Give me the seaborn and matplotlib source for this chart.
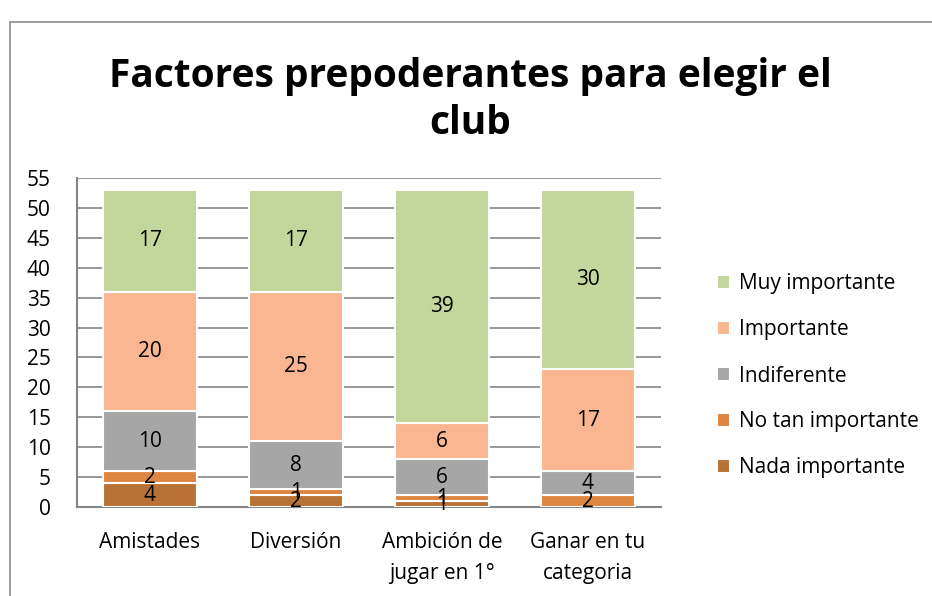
import pandas as pd
import matplotlib
matplotlib.use("Agg")
import matplotlib.pyplot as plt
import matplotlib.patches as mpatches
import seaborn as sns

# Data
categories = ["Amistades", "Diversión", "Ambición de\njugar en 1°", "Ganar en tu\ncategoria"]
levels = ["Nada importante", "No tan importante", "Indiferente", "Importante", "Muy importante"]
nada = [4, 2, 1, 0]
no_tan = [2, 1, 1, 2]
indiferente = [10, 8, 6, 4]
importante = [20, 25, 6, 17]
muy = [17, 17, 39, 30]
colors = ["#B87235", "#DD8642", "#A6A6A6", "#F9B691", "#C3D69B"]

series = [nada, no_tan, indiferente, importante, muy]
df = pd.DataFrame({
    "Factor": [c for _ in levels for c in categories],
    "Nivel": [lv for lv in levels for _ in categories],
    "Valor": [v for s in series for v in s],
})

sns.set_style("white")
plt.rcParams["font.family"] = ["Open Sans", "DejaVu Sans"]
plt.rcParams["text.color"] = "black"
plt.rcParams["xtick.color"] = "black"
plt.rcParams["ytick.color"] = "black"

fig = plt.figure(figsize=(9.32, 5.96), dpi=100)
ax = fig.add_axes([77 / 932, 1 - 507 / 596, 584 / 932, 329 / 596])

# outer chart frame (only left/top visible in the reference)
fig.patches.append(mpatches.Rectangle((10 / 932, -0.1), 1.2, 1 - 22 / 596 + 0.1,
                                      transform=fig.transFigure, fill=False,
                                      edgecolor="#8c8c8c", linewidth=1.2, zorder=0))

bottom = pd.Series([0] * len(categories), dtype=float)
for lv, col in zip(levels, colors):
    sub = df[df["Nivel"] == lv].reset_index(drop=True)
    sns.barplot(data=sub, x="Factor", y="Valor", color=col, bottom=bottom.values,
                width=0.65, saturation=1, edgecolor="white", linewidth=1.5,
                ax=ax, zorder=3, label=lv)
    for i, v in enumerate(sub["Valor"]):
        if v > 0:
            ax.text(i, bottom[i] + v / 2, str(v), ha="center", va="center",
                    fontsize=15, color="black", zorder=5)
    bottom = bottom + sub["Valor"]

handles, labels = ax.get_legend_handles_labels()
if ax.get_legend() is not None:
    ax.get_legend().remove()

ax.set_xlim(-0.5, 3.5)
ax.set_ylim(0, 55)
ax.set_yticks(range(0, 56, 5))
ax.yaxis.grid(True, color="#868686", linewidth=1.2, zorder=0)
ax.set_axisbelow(True)
for s in ["top", "right"]:
    ax.spines[s].set_visible(False)
for s in ["left", "bottom"]:
    ax.spines[s].set_color("#868686")
    ax.spines[s].set_linewidth(1.5)
ax.tick_params(axis="y", length=0, pad=19, labelsize=15)
ax.tick_params(axis="x", length=0, pad=18, labelsize=15)
for t in ax.get_xticklabels():
    t.set_linespacing(1.6)
ax.set_xlabel("")
ax.set_ylabel("")

fig.text(470 / 932, 1 - 100 / 596, "Factores prepoderantes para elegir el\nclub",
         ha="center", va="center", fontsize=28, fontweight="bold", linespacing=1.3)

fig.legend(handles[::-1], labels[::-1], loc="center left",
           bbox_to_anchor=(698 / 932, 1 - 376 / 596), frameon=False,
           fontsize=15, handlelength=0.65, handleheight=0.65,
           handletextpad=0.4, labelspacing=1.2)

fig.savefig("out.png", dpi=100)
